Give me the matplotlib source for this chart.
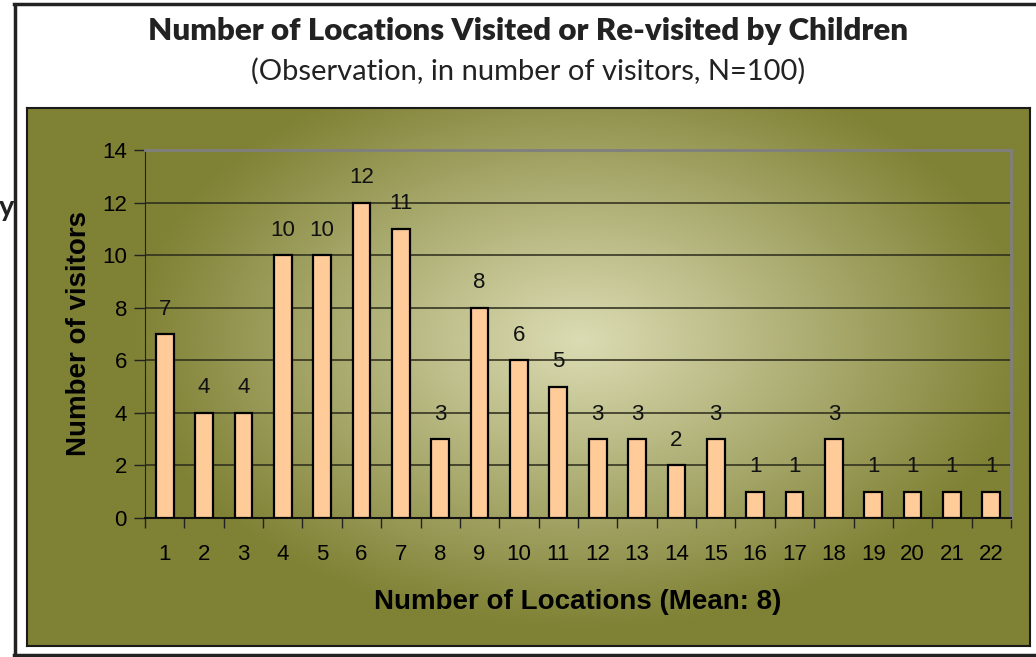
import numpy as np
import matplotlib.pyplot as plt
from matplotlib.lines import Line2D

locations = list(range(1, 23))
visitors = [7, 4, 4, 10, 10, 12, 11, 3, 8, 6, 5, 3, 3, 2, 3, 1, 1, 3, 1, 1, 1, 1]
y_ticks = [0, 2, 4, 6, 8, 10, 12, 14]

title = "Number of Locations Visited or Re-visited by Children"
subtitle = "(Observation, in number of visitors, N=100)"

W, H = 1036, 657
fig = plt.figure(figsize=(W / 100, H / 100), dpi=100)
fig.patch.set_facecolor("white")

# outer page frame (left, top, bottom)
fig.add_artist(Line2D([15 / W, 15 / W], [1 - 5 / H, 1 - 655 / H], color="#222222", lw=2.5))
fig.add_artist(Line2D([14 / W, 1.0], [1 - 4 / H, 1 - 4 / H], color="#222222", lw=2.5))
fig.add_artist(Line2D([14 / W, 1.0], [1 - 655 / H, 1 - 655 / H], color="#222222", lw=2.5))

# olive gradient chart area
bx0, bx1, by0, by1 = 27, 1030, 108, 646
bg = fig.add_axes([bx0 / W, 1 - by1 / H, (bx1 - bx0) / W, (by1 - by0) / H])
gx, gy = np.meshgrid(np.linspace(bx0, bx1, 400), np.linspace(by0, by1, 250))
d = np.sqrt(((gx - 580) / 450) ** 2 + ((gy - 340) / 290) ** 2)
t = np.clip(d, 0, 1)
c_in = np.array([220, 220, 180]) / 255
c_out = np.array([127, 129, 52]) / 255
img = c_in[None, None, :] * (1 - t[..., None]) + c_out[None, None, :] * t[..., None]
bg.imshow(img, aspect="auto", extent=[0, 1, 0, 1], origin="upper")
bg.set_xticks([])
bg.set_yticks([])
for s in bg.spines.values():
    s.set_color("#1a1a1a")
    s.set_linewidth(1.5)

# plot area
px0, px1, py0, py1 = 145, 1011, 150, 518
ax = fig.add_axes([px0 / W, 1 - py1 / H, (px1 - px0) / W, (py1 - py0) / H])
ax.patch.set_alpha(0)
ax.bar(locations, visitors, width=0.45, color="#FFCC99", edgecolor="black", linewidth=1.6, zorder=3)
for x, v in zip(locations, visitors):
    ax.text(x, v + 0.95, str(v), ha="center", va="center", fontsize=16,
            family="Liberation Sans", color="#111111", zorder=4)

ax.set_xlim(0.5, 22.5)
ax.set_ylim(0, 14)
ax.set_yticks(y_ticks)
ax.set_yticklabels([str(v) for v in y_ticks], fontsize=16, family="Liberation Sans")
ax.set_xticks(np.arange(0.5, 23, 1))
ax.set_xticklabels([])
ax.set_xticks(locations, minor=True)
ax.set_xticklabels([str(v) for v in locations], minor=True, fontsize=16, family="Liberation Sans")
ax.tick_params(axis="x", which="major", length=7, width=1, color="#222222", direction="out")
ax.tick_params(axis="x", which="minor", length=0, pad=19)
ax.tick_params(axis="y", length=8, width=1, color="#222222", pad=5)
ax.grid(axis="y", color="#2a2a1a", linewidth=1.1, zorder=0)
ax.set_axisbelow(True)
ax.spines["left"].set_color("#222222")
ax.spines["bottom"].set_color("#111111")
ax.spines["bottom"].set_linewidth(1.5)
ax.spines["top"].set_color("#7f7f7f")
ax.spines["right"].set_color("#7f7f7f")
ax.spines["top"].set_linewidth(2)
ax.spines["right"].set_linewidth(2)

ax.set_ylabel("Number of visitors", fontsize=20, fontweight="bold", family="Liberation Sans", labelpad=7)
ax.set_xlabel("Number of Locations (Mean: 8)", fontsize=20, fontweight="bold", family="Liberation Sans", labelpad=17)

fig.text(528 / W, 1 - 31 / H, title, ha="center", va="center", fontsize=22.5, fontweight="heavy", family="Lato", color="#222222")
fig.text(528 / W, 1 - 71 / H, subtitle, ha="center", va="center", fontsize=21, family="Lato", color="#222222")
fig.text(7 / W, 1 - 208 / H, "y", ha="center", va="center", fontsize=21, fontweight="bold", family="Lato", color="#222222")

fig.savefig("out.png", dpi=100)
